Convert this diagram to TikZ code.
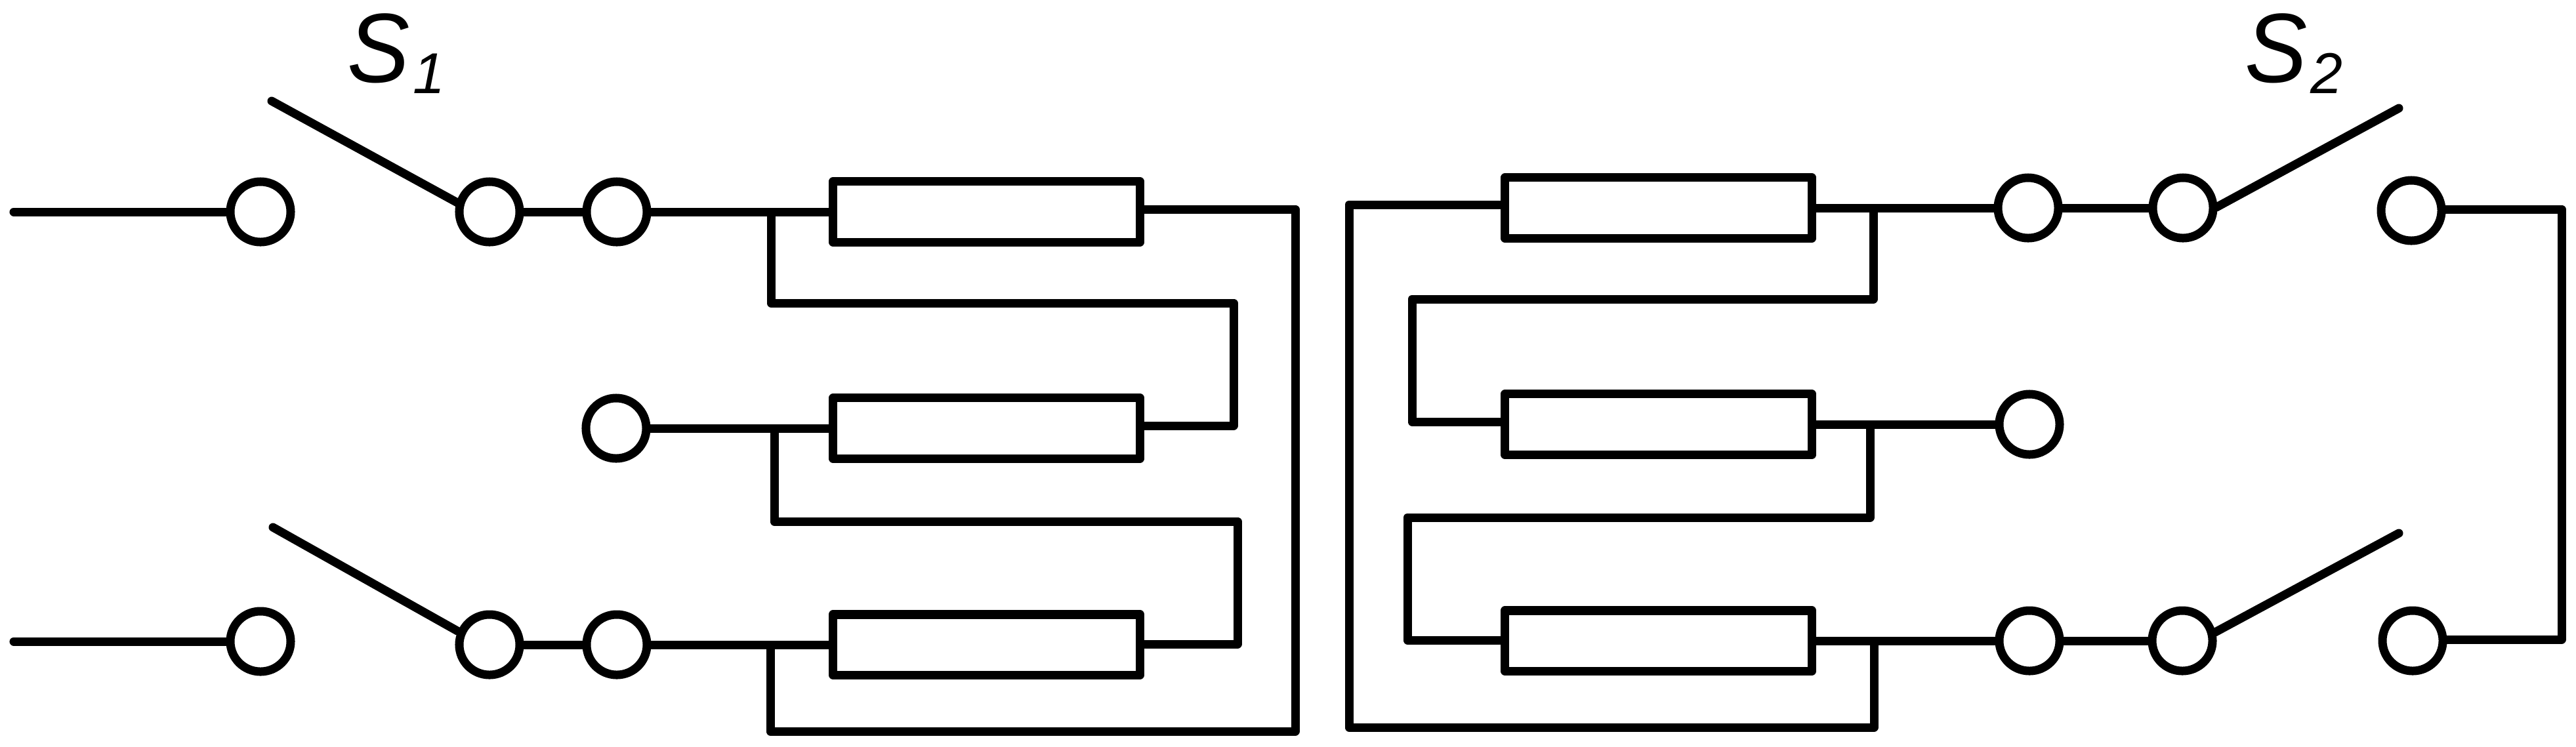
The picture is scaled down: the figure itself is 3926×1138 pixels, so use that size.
\documentclass[tikz,border=0pt]{standalone}
\usepackage{fontspec}
\setmainfont{Liberation Sans}
\usepackage{tikz}
\newcommand{\swlabel}[1]{\scalebox{0.95}[1]{\fontsize{42.7}{42.7}\selectfont\itshape S}\kern0.05cm{\fontsize{25}{25}\selectfont\itshape\raisebox{-0.17cm}{#1}}}
\tikzset{
  term/.style={draw, circle, fill=white, inner sep=0pt, minimum size=0.92cm},
  load/.style={draw, rectangle, fill=white, inner sep=0pt, minimum width=4.68cm, minimum height=0.92cm},
  swname/.style={anchor=base west, inner sep=0pt},
}
\begin{document}
\begin{tikzpicture}[x=0.01cm, y=-0.01cm, line width=0.13cm, line join=round, line cap=round]
  \useasboundingbox (0,0) rectangle (3926,1138);
  % left terminals and loads
  \node[term] (a1) at (397,323){}; \node[term] (b1) at (746,323){}; \node[term] (c1) at (940,323){};
  \node[term] (c2) at (939,653){};
  \node[term] (a3) at (397,978){}; \node[term] (b3) at (746,983){}; \node[term] (c3) at (940,983){};
  \node[load] (r1) at (1503.5,323){}; \node[load] (r2) at (1503.5,653){}; \node[load] (r3) at (1503.5,983){};
  % right terminals and loads
  \node[load] (q1) at (2527.5,317){}; \node[load] (q2) at (2527.5,647){}; \node[load] (q3) at (2527.5,977){};
  \node[term] (d1) at (3091,317){}; \node[term] (e1) at (3327,317){}; \node[term] (f1) at (3675,321){};
  \node[term] (d2) at (3093,647){};
  \node[term] (d3) at (3093,977){}; \node[term] (e3) at (3326,977){}; \node[term] (f3) at (3677,977){};
  % free ends, switch blades
  \coordinate (in1) at (21,323); \coordinate (in3) at (21,978);
  \coordinate (up1) at (414,154); \coordinate (lo1) at (697,309);
  \coordinate (up3) at (416,804); \coordinate (lo3) at (697,962);
  \coordinate (up4) at (3656,165); \coordinate (lo4) at (3378,316);
  \coordinate (up6) at (3656,813); \coordinate (lo6) at (3376,964);
  % left bends
  \coordinate (j1) at (1175,325); \coordinate (k1) at (1175,462); \coordinate (m1) at (1880,649);
  \coordinate (j2) at (1180,655); \coordinate (k2) at (1180,795); \coordinate (m2) at (1886,982);
  \coordinate (j3) at (1174,985); \coordinate (k3) at (1174,1115); \coordinate (m3) at (1974,319);
  % right bends
  \coordinate (j4) at (2855,319); \coordinate (k4) at (2855,456); \coordinate (m4) at (2152,643);
  \coordinate (j5) at (2850,649); \coordinate (k5) at (2850,789); \coordinate (m5) at (2145,976);
  \coordinate (j6) at (2856,979); \coordinate (k6) at (2856,1109); \coordinate (m6) at (2056,312);
  \coordinate (o1) at (3904,319); \coordinate (o3) at (3904,975);
  % left half
  \draw (in1)--(a1); \draw (up1)--(lo1); \draw (b1)--(c1); \draw (c1)--(r1);
  \draw (c2)--(r2);
  \draw (in3)--(a3); \draw (up3)--(lo3); \draw (b3)--(c3); \draw (c3)--(r3);
  \draw (j1)--(k1) -| (m1)--(m1 -| r2.east);
  \draw (j2)--(k2) -| (m2)--(m2 -| r3.east);
  \draw (j3)--(k3) -| (m3)--(m3 -| r1.east);
  % right half
  \draw (q1)--(d1); \draw (d1)--(e1); \draw (lo4)--(up4);
  \draw (q2)--(d2);
  \draw (q3)--(d3); \draw (d3)--(e3); \draw (lo6)--(up6);
  \draw (j4)--(k4) -| (m4)--(m4 -| q2.west);
  \draw (j5)--(k5) -| (m5)--(m5 -| q3.west);
  \draw (j6)--(k6) -| (m6)--(m6 -| q1.west);
  \draw (f1.east |- o1)--(o1)--(o3)--(f3.east |- o3);
  % names
  \node[swname] (s1) at (523,125){\swlabel{1}};
  \node[swname] (s2) at (3415,125){\swlabel{2}};
\end{tikzpicture}
\end{document}
